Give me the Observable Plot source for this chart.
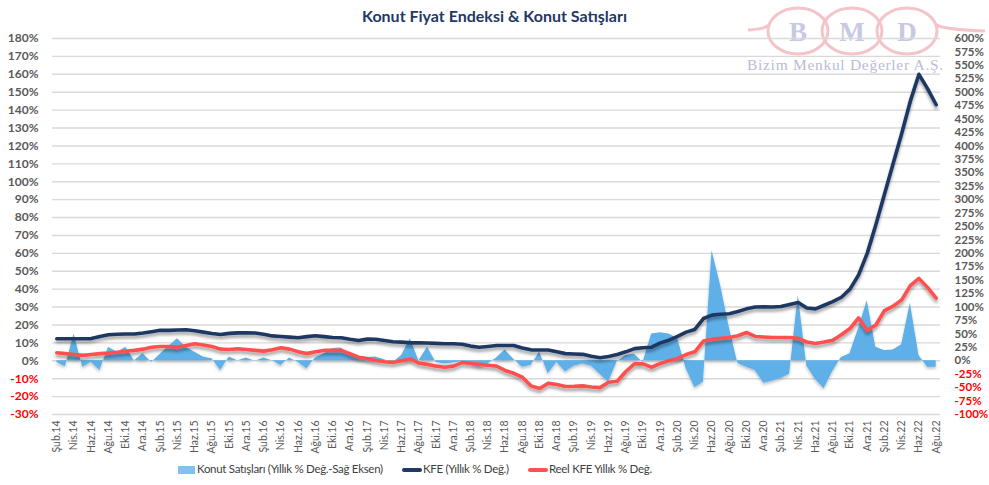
<!DOCTYPE html>
<html>
<head>
<meta charset="utf-8">
<script src="https://cdn.jsdelivr.net/npm/d3@7"></script>
<script src="https://cdn.jsdelivr.net/npm/@observablehq/plot@0.6"></script>
<style>
  html, body { margin: 0; padding: 0; background: #fff; }
  #wrap { position: relative; width: 989px; height: 485px; overflow: hidden; font-family: Lato, "Open Sans", sans-serif; }
  #logo { position: absolute; left: 740px; top: 0; z-index: 0; }
  #title { position: absolute; left: 0; top: 6px; width: 989px; text-align: center; font: bold 16px Lato, sans-serif; color: #1f3864; z-index: 2; }
  #chart { position: absolute; left: 0; top: 28px; z-index: 1; }
  .leg { position: absolute; top: 462px; font: 11.5px Lato, sans-serif; color: #404040; z-index: 2; white-space: nowrap; letter-spacing: -0.3px; }
  .sw { position: absolute; }
</style>
</head>
<body>
<div id="wrap">
  <div id="logo">
    <svg width="249" height="80">
      <path d="M8,30 C22,29 26,28 30,24" fill="none" stroke="#f5c4c8" stroke-width="3"/>
      <ellipse cx="58" cy="31" rx="30" ry="23" fill="none" stroke="#f5c4c8" stroke-width="3"/>
      <ellipse cx="112" cy="31" rx="30" ry="23" fill="none" stroke="#f5c4c8" stroke-width="3"/>
      <ellipse cx="167" cy="31" rx="30" ry="23" fill="none" stroke="#f5c4c8" stroke-width="3"/>
      <path d="M195,24 C200,28 214,30 245,31" fill="none" stroke="#f5c4c8" stroke-width="3"/>
      <text x="58" y="41" text-anchor="middle" font-family="'Liberation Serif', serif" font-weight="bold" font-size="27" fill="#c5c9e2">B</text>
      <text x="112" y="41" text-anchor="middle" font-family="'Liberation Serif', serif" font-weight="bold" font-size="27" fill="#c5c9e2">M</text>
      <text x="167" y="41" text-anchor="middle" font-family="'Liberation Serif', serif" font-weight="bold" font-size="27" fill="#c5c9e2">D</text>
      <text x="7" y="70" font-family="'Liberation Serif', serif" font-size="15.5" fill="#b8bcda" letter-spacing="0.7">Bizim Menkul Değerler A.Ş.</text>
    </svg>
  </div>
  <div id="title">Konut Fiyat Endeksi &amp; Konut Satışları</div>
  <div id="chart"></div>
  <div class="sw" style="left:178px;top:466px;width:17px;height:8px;background:#7cc3f2;"></div>
  <div class="leg" style="left:197px;">Konut Satışları (Yıllık % Değ.-Sağ Eksen)</div>
  <div class="sw" style="left:402px;top:468px;width:20px;height:3.5px;background:#1f3864;border-radius:2px;"></div>
  <div class="leg" style="left:423px;">KFE (Yıllık % Değ.)</div>
  <div class="sw" style="left:528px;top:468px;width:20px;height:3.5px;background:#ff5050;border-radius:2px;"></div>
  <div class="leg" style="left:549px;">Reel KFE Yıllık % Değ.</div>
</div>
<script>
// Categories: months Şub.14 .. Ağu.22
const months = [
  "Şub.14","Mar.14","Nis.14","May.14","Haz.14","Tem.14","Ağu.14","Eyl.14","Eki.14","Kas.14","Ara.14",
  "Oca.15","Şub.15","Mar.15","Nis.15","May.15","Haz.15","Tem.15","Ağu.15","Eyl.15","Eki.15","Kas.15","Ara.15",
  "Oca.16","Şub.16","Mar.16","Nis.16","May.16","Haz.16","Tem.16","Ağu.16","Eyl.16","Eki.16","Kas.16","Ara.16",
  "Oca.17","Şub.17","Mar.17","Nis.17","May.17","Haz.17","Tem.17","Ağu.17","Eyl.17","Eki.17","Kas.17","Ara.17",
  "Oca.18","Şub.18","Mar.18","Nis.18","May.18","Haz.18","Tem.18","Ağu.18","Eyl.18","Eki.18","Kas.18","Ara.18",
  "Oca.19","Şub.19","Mar.19","Nis.19","May.19","Haz.19","Tem.19","Ağu.19","Eyl.19","Eki.19","Kas.19","Ara.19",
  "Oca.20","Şub.20","Mar.20","Nis.20","May.20","Haz.20","Tem.20","Ağu.20","Eyl.20","Eki.20","Kas.20","Ara.20",
  "Oca.21","Şub.21","Mar.21","Nis.21","May.21","Haz.21","Tem.21","Ağu.21","Eyl.21","Eki.21","Kas.21","Ara.21",
  "Oca.22","Şub.22","Mar.22","Nis.22","May.22","Haz.22","Tem.22","Ağu.22"
];

// KFE (Yıllık % Değ.) - left axis
const kfe = [
  12.3,12.3,12.3,12.3,12.4, 13.5,14.5,14.8,15,15, 15.5,16.2,17,17,17.2, 17.3,16.8,16,15.2,14.7,
  15.3,15.6,15.6,15.5,14.8, 13.9,13.6,13.2,12.9,13.5, 14,13.5,13,12.9,12, 11.3,12.1,12,11.3,10.6,
  10.4,10,10,9.9,9.7, 9.5,9.5,9.2,8.2,7.6, 8,8.5,8.5,8.5,7.2, 6.1,6,6,5,4,
  3.8,3.6,2.5,1.7,2.4, 3.5,5,6.8,7.3,7.6, 10,11.5,13.6,16,17.5, 23.6,25.5,26,26.3,27.5,
  29,30,30.2,30,30.3, 31.5,32.6,29.5,29,31, 33,35.5,40,48,60, 76,93,110,127,145, 160,152,143
];

// Reel KFE Yıllık % Değ. - left axis
const reelKfe = [
  4.5,4,3.5,3,3.5, 4,4.3,4.8,5.3,5.8, 6.5,7.6,8,8,7.5, 8.5,9.5,8.8,8,6.5,
  6.3,6.7,6.3,5.8,5.4, 6.2,7.3,6.5,5,4, 5,5.8,5.8,5.8,4, 2,1.3,0.2,-0.5,-1,
  0,1,-1.3,-2,-3, -3.6,-3,-1,-1.5,-2, -2.5,-3,-5.4,-7,-9.2, -14,-15.5,-12.5,-13.2,-14.4,
  -14.3,-14,-14.6,-15,-12, -11.4,-6,-1.7,-1.7,-3.6, -1.5,0,1.3,3.5,5, 11,12,12.5,13,14,
  15.8,13.6,13.3,13,13, 13,12.5,10.5,9.7,10.5, 11.5,14.5,18,24,17, 20,28,30.5,34,42, 46,41,35
];

// Konut Satışları (Yıllık % Değ.) - right axis
const sales = [
  -3,-11,50,-12,-3, -18,25,16,25,0, 13,-3,12,27,41, 25,16,7,4,-18,
  7,0,5,-1,5, 0,-9,5,-3,-15, 5,13,23,24,10, 7,6,7,2,-3,
  10,41,0,25,-3, -6,-4,-2,-5,-12, -6,5,20,3,-12, -9,16,-24,-3,-21,
  -10,-6,-10,-25,-40, -2,10,12,-3,50, 52,50,42,-15,-50, -40,205,140,62,-5,
  -12,-18,-42,-38,-33, -25,122,-10,-35,-52, -20,6,13,60,112, 25,19,20,30,107, 10,-12,-12
];

const leftTicks = [-30,-20,-10,0,10,20,30,40,50,60,70,80,90,100,110,120,130,140,150,160,170,180];
const rightTicks = [-100,-75,-50,-25,0,25,50,75,100,125,150,175,200,225,250,275,300,325,350,375,400,425,450,475,500,525,550,575,600];
const xTicks = months.filter((d, i) => i % 2 === 0);

// right axis (-100..600) maps onto left axis (-30..180)
const k = 180 / 600;

const rows = months.map((m, i) => ({month: m, kfe: kfe[i], reel: reelKfe[i], sales: sales[i]}));

const chart = Plot.plot({
  width: 989,
  height: 432,
  marginTop: 10,
  marginBottom: 46,
  marginLeft: 52,
  marginRight: 49,
  style: {fontFamily: "Lato, sans-serif", background: "transparent", overflow: "visible"},
  x: {type: "point", domain: months, padding: 0.5, align: 0.5, axis: null},
  y: {domain: [-30, 180], axis: null},
  marks: [
    Plot.gridY(leftTicks, {stroke: "#d9d9d9", strokeOpacity: 1, strokeWidth: 1.4}),
    Plot.areaY(rows, {x: "month", y1: 0, y2: d => d.sales * k, fill: "#5eb0e8", fillOpacity: 1}),
    Plot.lineY(rows, {x: "month", y: "kfe", stroke: "#1f3864", strokeWidth: 3.6, strokeLinejoin: "round", strokeLinecap: "round"}),
    Plot.lineY(rows, {x: "month", y: "reel", stroke: "#ff4f4f", strokeWidth: 3.6, strokeLinejoin: "round", strokeLinecap: "round"}),
    Plot.axisX(xTicks, {tickRotate: -90, tickSize: 0, tickPadding: 6, fontSize: 10.5, fill: "#595959", label: null}),
    Plot.text(leftTicks.filter(d => d >= 0), {y: d => d, text: d => d + "%", frameAnchor: "left", textAnchor: "end", dx: -14, fill: "#595959", fontWeight: "bold", fontSize: 12}),
    Plot.text(leftTicks.filter(d => d < 0), {y: d => d, text: d => d + "%", frameAnchor: "left", textAnchor: "end", dx: -14, fill: "#ff0000", fontWeight: "bold", fontSize: 12}),
    Plot.text(rightTicks.filter(d => d >= 0), {y: d => d * k, text: d => d + "%", frameAnchor: "right", textAnchor: "start", dx: 14, fill: "#595959", fontWeight: "bold", fontSize: 11.5}),
    Plot.text(rightTicks.filter(d => d < 0), {y: d => d * k, text: d => d + "%", frameAnchor: "right", textAnchor: "start", dx: 14, fill: "#ff0000", fontWeight: "bold", fontSize: 11.5})
  ]
});

// soft drop shadows like the original
const defs = d3.select(chart).insert("defs", ":first-child");
defs.html('<filter id="lsh" x="-5%" y="-30%" width="110%" height="160%"><feDropShadow dx="0" dy="3" stdDeviation="1.6" flood-color="#000" flood-opacity="0.35"/></filter>' +
          '<filter id="ash" x="-5%" y="-30%" width="110%" height="160%"><feDropShadow dx="0" dy="2" stdDeviation="1.5" flood-color="#000" flood-opacity="0.25"/></filter>');
chart.querySelectorAll('g[aria-label="line"]').forEach(g => g.setAttribute("filter", "url(#lsh)"));
chart.querySelectorAll('g[aria-label="area"]').forEach(g => g.setAttribute("filter", "url(#ash)"));

document.getElementById("chart").appendChild(chart);
</script>
</body>
</html>
